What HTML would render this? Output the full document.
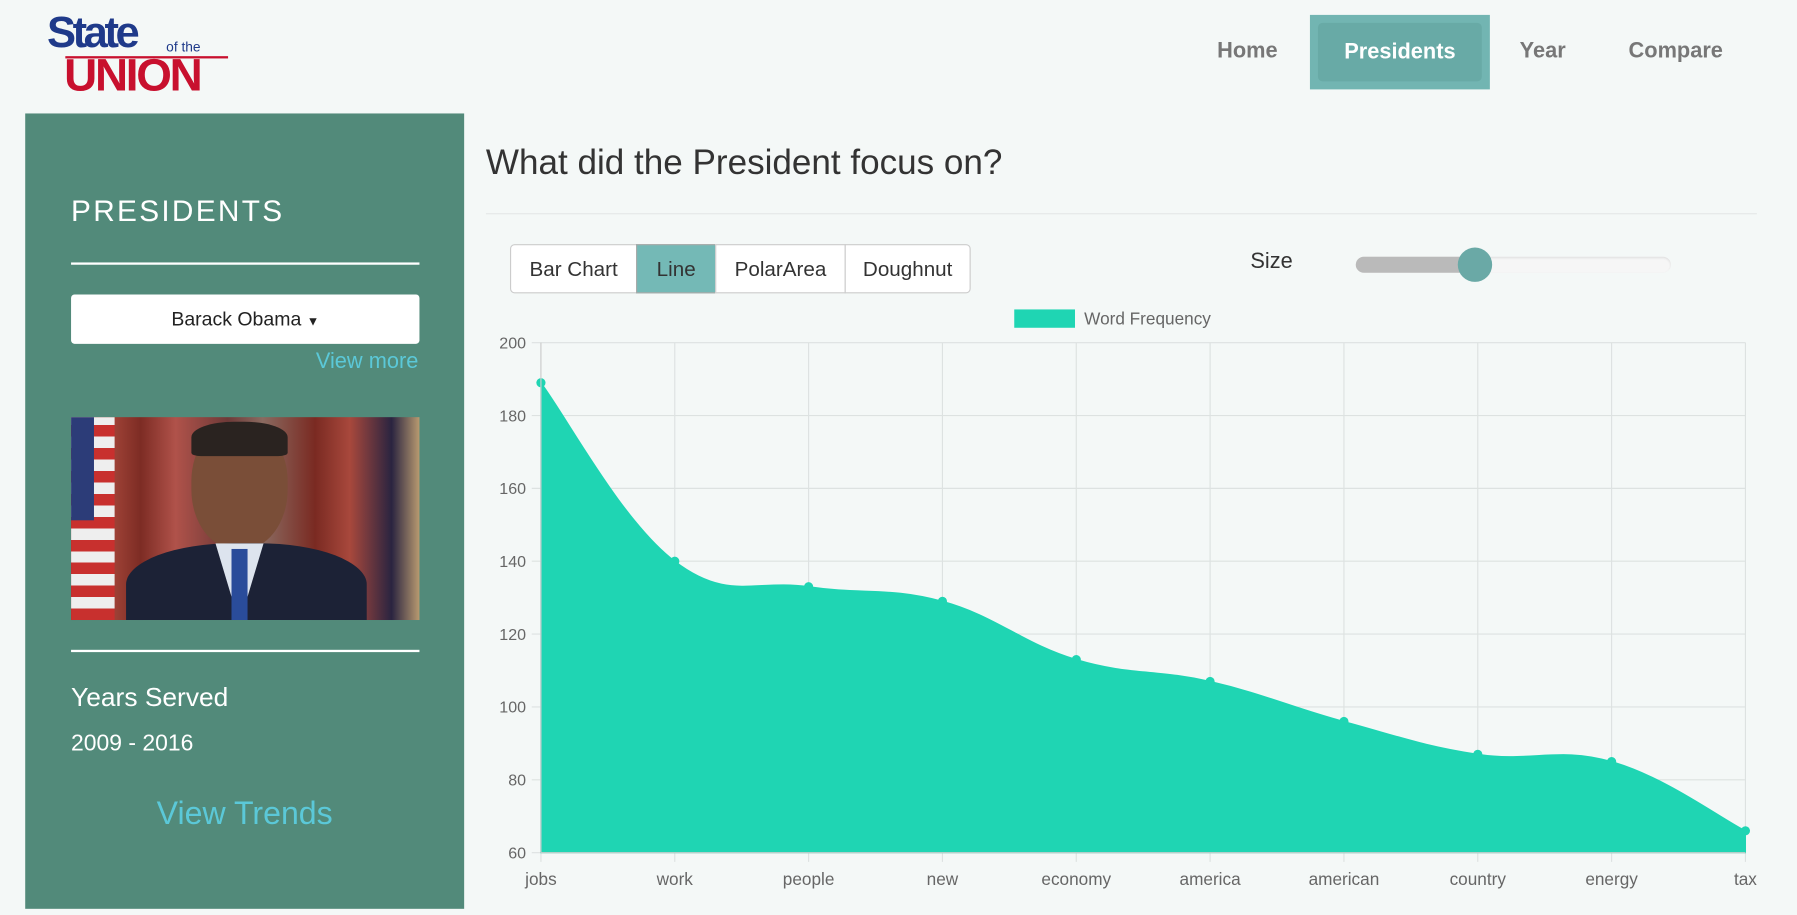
<!DOCTYPE html>
<html><head><meta charset="utf-8">
<style>
html,body{margin:0;padding:0;width:1797px;height:915px;overflow:hidden;background:#f4f8f7;font-family:"Liberation Sans",sans-serif;}
#wrap{position:absolute;left:0;top:0;width:1568px;height:798px;transform:scale(1.14605);transform-origin:0 0;}
.abs{position:absolute;}
.nav{position:absolute;top:34px;font-size:19px;font-weight:bold;color:#777;}
.btn{position:absolute;top:213px;height:43px;line-height:43px;text-align:center;font-size:18px;color:#333;background:#fff;border:1px solid #ccc;box-sizing:border-box;}
</style></head>
<body>
<div id="wrap">
  <div class="abs" style="left:40px;top:12px;width:165px;height:85px;">
    <div class="abs" style="left:1px;top:-4px;font-size:38px;font-weight:bold;color:#1f3a8a;letter-spacing:-3px;">State</div>
    <div class="abs" style="left:105px;top:22px;font-size:12px;color:#1f3a8a;">of the</div>
    <div class="abs" style="left:17px;top:37px;width:142px;height:2px;background:#c8102e;"></div>
    <div class="abs" style="left:16px;top:32px;font-size:40px;font-weight:bold;color:#c8102e;letter-spacing:-2px;">UNION</div>
  </div>
  <div class="nav" style="left:1062px;">Home</div>
  <div class="abs" style="left:1143px;top:13px;width:157px;height:65px;background:#72b5b2;">
    <div class="abs" style="left:7px;top:7px;width:143px;height:51px;background:#68aaa6;border-radius:4px;color:#fff;font-size:19px;font-weight:bold;line-height:51px;text-align:center;">Presidents</div>
  </div>
  <div class="nav" style="left:1326px;">Year</div>
  <div class="nav" style="left:1421px;">Compare</div>

  <div class="abs" style="left:22px;top:99px;width:383px;height:694px;background:#528a7a;color:#fff;">
    <div class="abs" style="left:40px;top:70px;font-size:26px;letter-spacing:2px;">PRESIDENTS</div>
    <div class="abs" style="left:40px;top:130px;width:304px;height:2px;background:#fff;"></div>
    <div class="abs" style="left:40px;top:158px;width:304px;height:43px;background:#fff;border-radius:3px;color:#222;font-size:17px;line-height:43px;text-align:center;">Barack Obama <span style="font-size:11px">▼</span></div>
    <div class="abs" style="right:40px;top:206px;font-size:19px;color:#5bc8d8;">View more</div>
    <div class="abs" style="left:40px;top:265px;width:304px;height:177px;background:linear-gradient(90deg,#7a2a22 0%,#a8483c 10%,#7d2c24 20%,#b0524a 30%,#6e3a38 45%,#8a6a60 55%,#7a2a22 70%,#a8483c 80%,#2a2440 92%,#b89a70 100%);overflow:hidden;">
      <div class="abs" style="left:0;top:0;width:38px;height:177px;background:repeating-linear-gradient(0deg,#c8302e 0 10px,#eee 10px 20px);"></div>
      <div class="abs" style="left:0;top:0;width:20px;height:90px;background:#2c3c78;"></div>
      <div class="abs" style="left:105px;top:6px;width:84px;height:110px;border-radius:45% 45% 48% 48%;background:#7a4e38;"></div>
      <div class="abs" style="left:105px;top:4px;width:84px;height:30px;border-radius:45% 45% 10% 10%;background:#2a2320;"></div>
      <div class="abs" style="left:48px;top:110px;width:210px;height:80px;border-radius:45% 45% 0 0;background:#1c2236;"></div>
      <div class="abs" style="left:126px;top:110px;width:42px;height:70px;background:#dde4ee;clip-path:polygon(0 0,100% 0,50% 100%);"></div>
      <div class="abs" style="left:140px;top:115px;width:14px;height:62px;background:#2a4c9a;"></div>
    </div>
    <div class="abs" style="left:40px;top:468px;width:304px;height:2px;background:#fff;"></div>
    <div class="abs" style="left:40px;top:496px;font-size:23px;">Years Served</div>
    <div class="abs" style="left:40px;top:539px;font-size:20px;">2009 - 2016</div>
    <div class="abs" style="left:0;width:383px;text-align:center;top:595px;font-size:28px;color:#5bc8d8;">View Trends</div>
  </div>

  <div class="abs" style="left:424px;top:125px;font-size:30.6px;color:#333;">What did the President focus on?</div>
  <div class="abs" style="left:424px;top:186px;width:1109px;height:1px;background:#e4e8e7;"></div>

  <div class="btn" style="left:445px;width:111px;border-radius:4px 0 0 4px;">Bar Chart</div>
  <div class="btn" style="left:555px;width:70px;background:#74b9b6;border-color:#aaa;">Line</div>
  <div class="btn" style="left:624px;width:114px;">PolarArea</div>
  <div class="btn" style="left:737px;width:110px;border-radius:0 4px 4px 0;">Doughnut</div>

  <div class="abs" style="left:1091px;top:218px;font-size:19px;color:#333;">Size</div>
  <div class="abs" style="left:1183px;top:224px;width:275px;height:14px;background:#f6f6f6;border-radius:7px;box-shadow:inset 0 1px 2px #ddd;">
    <div class="abs" style="left:0;top:0;width:105px;height:14px;background:#bababa;border-radius:7px 0 0 7px;"></div>
    <div class="abs" style="left:89px;top:-8px;width:30px;height:30px;border-radius:50%;background:#6aa9a6;"></div>
  </div>

  <svg class="abs" style="left:0;top:0" width="1568" height="798" id="chart"></svg>
</div>
<script>
const categories=["jobs","work","people","new","economy","america","american","country","energy","tax"];
const values=[189,140,133,129,113,107,96,87,85,66];
const yTicks=[60,80,100,120,140,160,180,200];
const seriesLabel="Word Frequency";
const NS="http://www.w3.org/2000/svg";
const svg=document.getElementById('chart');
const L=472,R=1523,T=299,B=744,yMin=60,yMax=200;
const x=i=>L+(R-L)*i/(categories.length-1);
const y=v=>B-(v-yMin)/(yMax-yMin)*(B-T);
function mk(tag,attrs,parent){const e=document.createElementNS(NS,tag);for(const k in attrs)e.setAttribute(k,attrs[k]);(parent||svg).appendChild(e);return e;}
const lb=mk('rect',{x:885,y:270,width:53,height:16,fill:'#1fd5b3'});


const lt=mk('text',{x:946,y:283,'font-size':15,fill:'#666','font-family':'Liberation Sans'});
lt.textContent=seriesLabel;


yTicks.forEach(t=>{
  const g=mk('line',{x1:L-8,x2:R,y1:y(t),y2:y(t),stroke:'#dde2e1','stroke-width':1});
  
  
  const tx=mk('text',{x:459,y:y(t)+5,'text-anchor':'end','font-size':14,fill:'#666','font-family':'Liberation Sans'});
  tx.textContent=t;
  
  
});
categories.forEach((c,i)=>{
  const g=mk('line',{x1:x(i),x2:x(i),y1:T,y2:B+8,stroke:'#dde2e1','stroke-width':1});
  
  
  const tx=mk('text',{x:x(i),y:772,'text-anchor':'middle','font-size':15,fill:'#666','font-family':'Liberation Sans'});
  tx.textContent=c;
  
  
});
const pts=values.map((v,i)=>[x(i),y(v)]);
const t=0.4;
let d=`M${pts[0][0]},${B} L${pts[0][0]},${pts[0][1]}`;
for(let i=0;i<pts.length-1;i++){
  const p0=pts[i-1]||pts[i],p1=pts[i],p2=pts[i+1],p3=pts[i+2]||pts[i+1];
  const c1=[p1[0]+(p2[0]-p0[0])*t/2,p1[1]+(p2[1]-p0[1])*t/2];
  const c2=[p2[0]-(p3[0]-p1[0])*t/2,p2[1]-(p3[1]-p1[1])*t/2];
  d+=` C${c1[0]},${c1[1]} ${c2[0]},${c2[1]} ${p2[0]},${p2[1]}`;
}
d+=` L${pts[pts.length-1][0]},${B} Z`;
const area=mk('path',{d:d,fill:'#1fd5b3',stroke:'#1fd5b3','stroke-width':1});


pts.forEach((p,i)=>{
  const c=mk('circle',{cx:p[0],cy:p[1],r:4,fill:'#1fd5b3'});
  
  
});
mk('line',{x1:L,x2:R,y1:B,y2:B,stroke:'#ccc'});
mk('line',{x1:L,x2:L,y1:T,y2:B,stroke:'#ccc'});
</script>
</body></html>
